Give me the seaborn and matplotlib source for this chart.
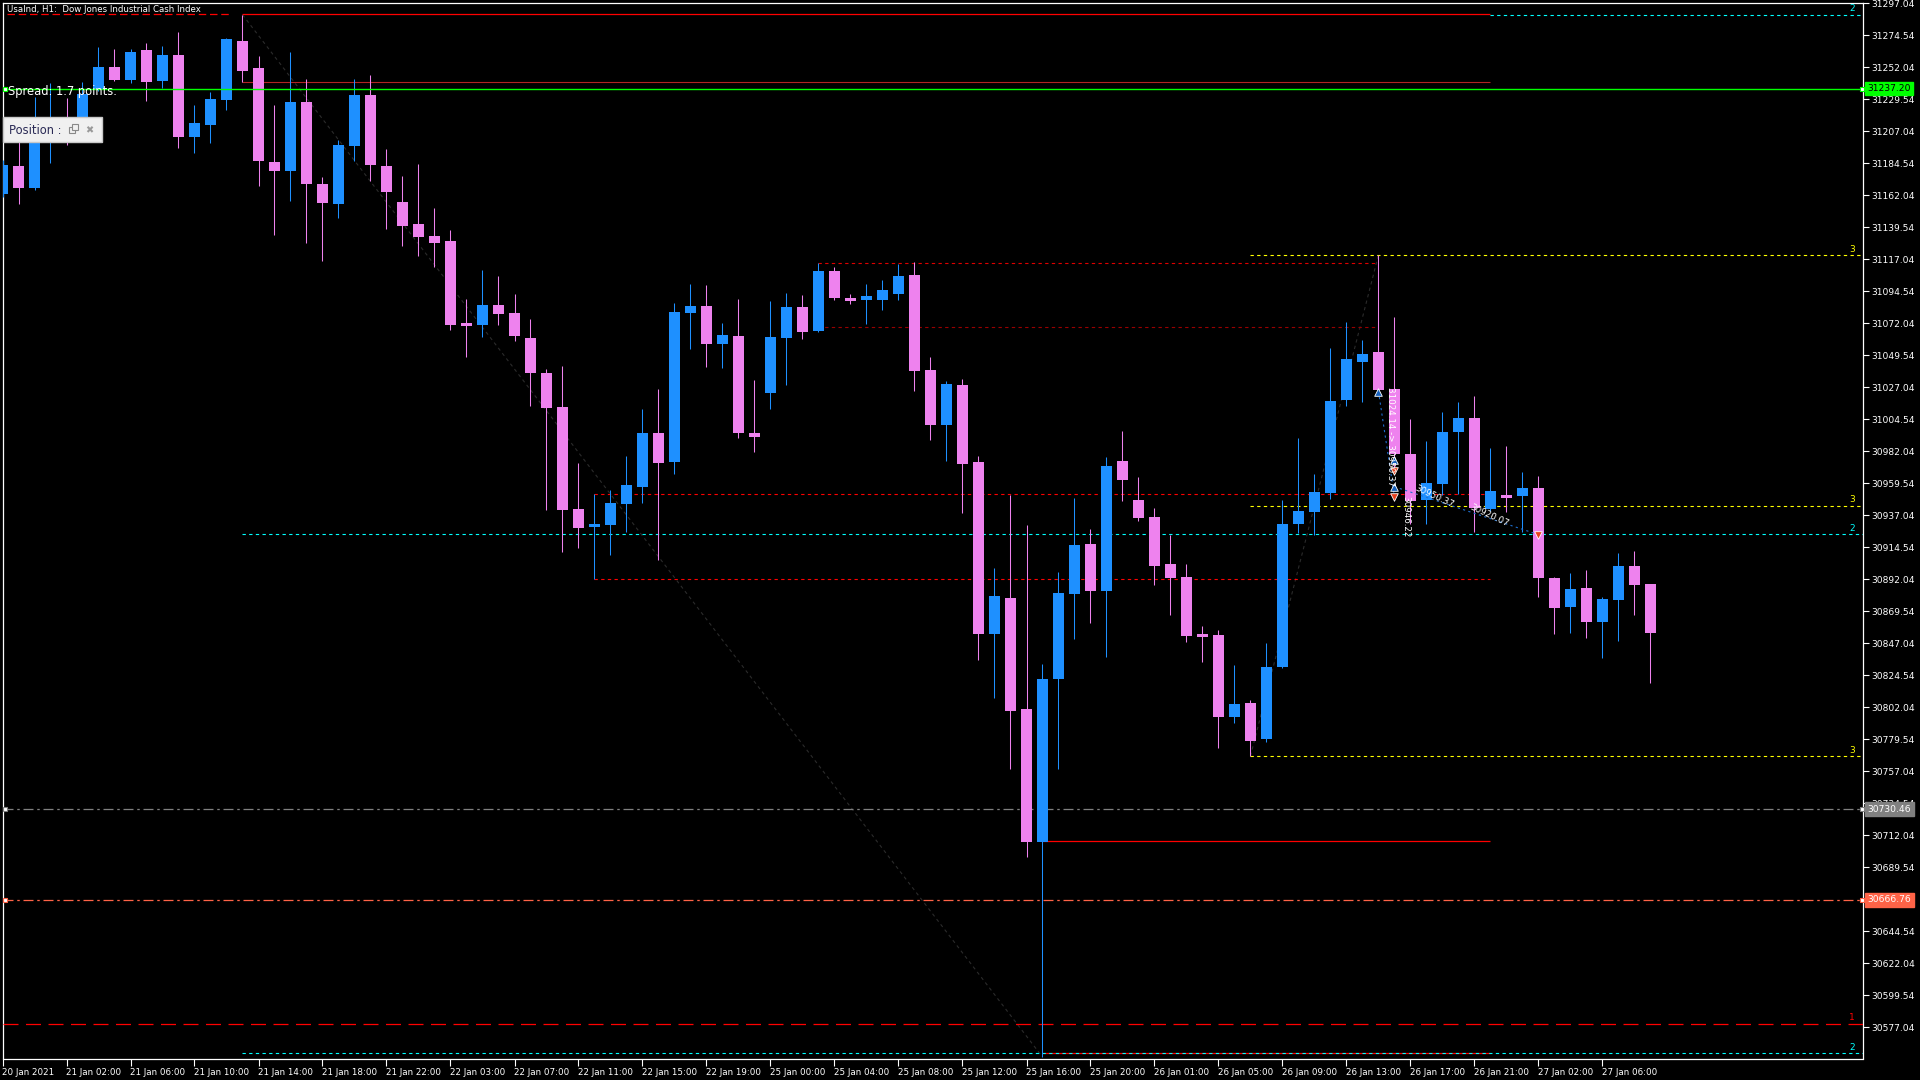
import numpy as np
import pandas as pd
import matplotlib
matplotlib.use("Agg")
import matplotlib.pyplot as plt
import seaborn as sns

# UsaInd H1 bars, 20 Jan 22:00 .. 27 Jan
opens = [31163.2, 31182.7, 31167.5, 31201.0, 31215.1, 31211.5, 31236.9, 31252.3, 31243.2, 31264.3,
         31242.5, 31260.8, 31203.3, 31211.5, 31229.3, 31270.6, 31251.6, 31185.5, 31179.2, 31227.7,
         31170.1, 31156.2, 31197.0, 31232.6, 31182.7, 31157.4, 31141.9, 31133.5, 31130.0, 31072.3,
         31071.1, 31085.0, 31079.4, 31061.8, 31037.2, 31013.3, 30941.5, 30929.1, 30930.3, 30945.3,
         30957.2, 30995.0, 30974.8, 31079.6, 31084.3, 31057.8, 31063.2, 30995.0, 31023.3, 31062.0,
         31083.6, 31066.9, 31108.9, 31089.9, 31088.5, 31088.5, 31092.7, 31106.1, 31039.3, 31000.6,
         31028.7, 30974.7, 30853.7, 30879.0, 30800.9, 30707.4, 30822.2, 30881.8, 30917.1, 30883.9,
         30975.3, 30947.9, 30935.9, 30902.9, 30893.7, 30853.0, 30853.0, 30795.5, 30805.1, 30779.8,
         30830.5, 30931.2, 30939.6, 30953.0, 31018.4, 31045.1, 31051.9, 31025.9, 30980.4, 30948.1,
         30959.3, 30995.7, 31005.5, 30941.8, 30951.4, 30950.7, 30956.3, 30893.0, 30872.6, 30886.0,
         30862.1, 30877.6, 30901.5, 30888.8]
highs = [31186.9, 31201.0, 31231.4, 31241.3, 31230.7, 31242.0, 31266.4, 31265.0, 31265.0, 31269.2,
         31267.1, 31276.9, 31225.6, 31234.7, 31272.7, 31289.1, 31260.1, 31225.6, 31262.9, 31243.9,
         31175.0, 31201.0, 31243.9, 31246.7, 31194.7, 31175.7, 31184.1, 31153.2, 31137.7, 31089.2,
         31109.6, 31105.4, 31092.7, 31075.1, 31040.0, 31042.1, 30973.9, 30952.1, 30954.9, 30978.8,
         31011.9, 31025.9, 31086.4, 31099.7, 31099.0, 31072.3, 31089.2, 31032.2, 31087.8, 31093.4,
         31092.0, 31114.3, 31111.7, 31092.7, 31099.7, 31102.6, 31113.8, 31115.2, 31048.5, 31031.5,
         31033.0, 30978.8, 30900.1, 30951.7, 30930.3, 30832.6, 30897.2, 30949.3, 30927.5, 30978.1,
         30996.4, 30964.0, 30942.2, 30923.5, 30902.9, 30859.3, 30856.5, 30831.9, 30807.2, 30847.3,
         30947.9, 30991.5, 30966.2, 31054.7, 31073.0, 31060.4, 31120.3, 31076.5, 31004.8, 30989.4,
         31009.7, 31016.8, 31021.0, 30984.4, 30985.8, 30967.6, 30964.7, 30893.7, 30896.5, 30898.7,
         30879.7, 30910.6, 30912.0, 30888.8]
lows = [31160.9, 31156.2, 31165.8, 31184.6, 31197.5, 31204.5, 31235.5, 31242.5, 31241.3, 31228.6,
        31237.6, 31195.6, 31192.1, 31199.1, 31222.3, 31242.0, 31168.9, 31134.4, 31158.3, 31128.8,
        31116.1, 31146.4, 31186.4, 31172.4, 31138.6, 31126.7, 31119.6, 31111.9, 31067.6, 31048.6,
        31062.7, 31071.1, 31059.9, 31014.2, 30941.1, 30911.5, 30914.1, 30892.3, 30909.2, 30925.6,
        30946.0, 30905.7, 30966.4, 31054.3, 31041.6, 31040.9, 30991.7, 30981.8, 31012.1, 31028.9,
        31061.3, 31066.0, 31088.5, 31085.7, 31071.6, 31081.5, 31088.5, 31024.8, 30990.2, 30975.4,
        30938.8, 30835.4, 30808.7, 30758.7, 30696.9, 30556.2, 30758.7, 30850.2, 30861.4, 30837.6,
        30947.2, 30933.3, 30888.3, 30867.2, 30848.2, 30834.2, 30773.7, 30791.3, 30767.9, 30777.9,
        30830.0, 30924.9, 30923.1, 30948.8, 31014.2, 31017.0, 31024.0, 30967.1, 30931.2, 30931.2,
        30951.6, 30952.3, 30925.6, 30940.3, 30939.6, 30925.6, 30879.9, 30853.9, 30854.6, 30851.1,
        30837.0, 30848.9, 30867.2, 30819.4]
closes = [31183.4, 31167.5, 31205.0, 31213.6, 31199.6, 31233.3, 31252.3, 31243.2, 31262.9, 31242.0,
          31260.8, 31203.3, 31212.9, 31229.8, 31272.0, 31249.7, 31186.4, 31179.4, 31227.7, 31170.3,
          31156.9, 31197.5, 31232.6, 31183.6, 31164.6, 31140.7, 31133.0, 31128.8, 31071.1, 31070.4,
          31085.0, 31078.9, 31063.4, 31037.4, 31012.8, 30941.1, 30928.4, 30931.0, 30945.8, 30958.4,
          30995.0, 30974.1, 31080.1, 31084.3, 31057.8, 31063.9, 30995.2, 30992.4, 31062.5, 31083.6,
          31066.2, 31108.9, 31090.1, 31088.0, 31091.3, 31095.5, 31105.4, 31038.9, 31000.6, 31029.4,
          30973.2, 30853.7, 30880.5, 30799.6, 30707.4, 30822.2, 30882.5, 30916.3, 30883.9, 30971.8,
          30961.9, 30935.4, 30901.7, 30893.2, 30852.5, 30851.8, 30795.5, 30804.4, 30778.6, 30830.5,
          30931.0, 30940.1, 30953.5, 31017.5, 31047.0, 31050.5, 31025.4, 30980.4, 30947.4, 30959.8,
          30995.7, 31005.5, 30942.5, 30954.2, 30949.5, 30956.3, 30893.2, 30871.9, 30885.3, 30862.1,
          30878.3, 30901.5, 30888.1, 30854.6]

time_labels = ["20 Jan 2021", "21 Jan 02:00", "21 Jan 06:00", "21 Jan 10:00", "21 Jan 14:00",
               "21 Jan 18:00", "21 Jan 22:00", "22 Jan 03:00", "22 Jan 07:00", "22 Jan 11:00",
               "22 Jan 15:00", "22 Jan 19:00", "25 Jan 00:00", "25 Jan 04:00", "25 Jan 08:00",
               "25 Jan 12:00", "25 Jan 16:00", "25 Jan 20:00", "26 Jan 01:00", "26 Jan 05:00",
               "26 Jan 09:00", "26 Jan 13:00", "26 Jan 17:00", "26 Jan 21:00", "27 Jan 02:00",
               "27 Jan 06:00"]

bid_price = 31237.20
grey_level = 30730.46
stop_level = 30666.76
zone_level_1 = 30579.6
cyan_levels = [30923.95, 30559.0]
cyan_top = 31289.2
yellow_levels = [31119.9, 30944.0, 30767.85]

sns.set_style("dark", {"axes.facecolor": "black", "figure.facecolor": "black"})
plt.rcParams['font.family'] = ['DejaVu Sans']

W, H = 1920, 1080
fig = plt.figure(figsize=(19.2, 10.8), dpi=100, facecolor="black")
left_px, right_px, top_px, bot_px = 2.5, 1863.0, 2.75, 1058.5
ax = fig.add_axes([left_px / W, 1 - bot_px / H, (right_px - left_px) / W, (bot_px - top_px) / H])
ax.set_facecolor("black")

xmax = (right_px - left_px) / 16.0
ax.set_xlim(0, xmax)
ax.set_ylim(30555.17, 31297.50)

df = pd.DataFrame({"open": opens, "high": highs, "low": lows, "close": closes})
df["x"] = np.arange(len(df))
up = df["close"] >= df["open"]
colors = np.where(up, "#1E90FF", "#EE82EE")

ax.vlines(df["x"], df["low"], df["high"], colors=colors, linewidth=0.75, zorder=4)
body_low = np.minimum(df["open"], df["close"])
body_h = np.maximum((df["close"] - df["open"]).abs(), 1.6)
ax.bar(df["x"], body_h, bottom=body_low, width=11 / 16, color=colors, linewidth=0, zorder=5)

dot = (0, (3, 3))
yx = ax.get_yaxis_transform()

# trend lines (dark)
ax.plot([15, 65], [highs[15], lows[65]], color="#2b2b2b", lw=0.8, ls=dot, zorder=2)
ax.plot([78, 86], [lows[78], highs[86]], color="#2b2b2b", lw=0.8, ls=dot, zorder=2)

# horizontal objects
ax.hlines(31289.4, 15, 93, color="#FF0000", lw=0.9, zorder=3)
ax.hlines(31289.4, 0.3, 14.2, color="#FF0000", lw=0.9, ls=(0, (6, 3)), zorder=3)
ax.hlines(highs[15] - 47.5, 15, 93, color="#B22222", lw=0.8, zorder=3)
ax.hlines(bid_price, 0, xmax, color="#00FF00", lw=1.0, zorder=6)
ax.hlines(highs[51], 51, 86, color="#DD0000", lw=0.8, ls=dot, zorder=3)
ax.hlines(31069.3, 51, 86, color="#990000", lw=0.8, ls=dot, zorder=3)
ax.hlines(highs[37], 37, 93, color="#FF0000", lw=0.8, ls=dot, zorder=3)
ax.hlines(lows[37], 37, 93, color="#FF0000", lw=0.8, ls=dot, zorder=3)
ax.hlines(30707.8, 65, 93, color="#FF0000", lw=0.9, zorder=3)
ax.hlines(30559.0, 65, 93, color="#FF0000", lw=0.9, zorder=3)
for lv in yellow_levels:
    ax.hlines(lv, 78, xmax, color="#FFFF00", lw=0.8, ls=dot, zorder=3)
    ax.text(0.9955, lv + 1.0, "3", transform=yx, color="#FFFF00", fontsize=6.5, ha="right", va="bottom")
for lv in cyan_levels:
    ax.hlines(lv, 15, xmax, color="#00FFFF", lw=0.8, ls=dot, zorder=3)
    ax.text(0.9955, lv + 1.0, "2", transform=yx, color="#00FFFF", fontsize=6.5, ha="right", va="bottom")
ax.hlines(cyan_top, 93, xmax, color="#00FFFF", lw=0.8, ls=dot, zorder=3)
ax.text(0.9955, cyan_top + 1.0, "2", transform=yx, color="#00FFFF", fontsize=6.5, ha="right", va="bottom")
ax.hlines(zone_level_1, 0, xmax, color="#FF0000", lw=0.9, ls=(0, (12, 6)), zorder=3)
ax.text(0.9955, zone_level_1 + 1.0, "1", transform=yx, color="#FF0000", fontsize=6.5, ha="right", va="bottom")
ax.hlines(grey_level, 0, xmax, color="#808080", lw=0.9, ls=(0, (8, 3, 2, 3)), zorder=3)
ax.hlines(stop_level, 0, xmax, color="#FF6347", lw=0.9, ls=(0, (8, 3, 2, 3)), zorder=3)

for lv, col in [(bid_price, "#00FF00"), (grey_level, "#808080"), (stop_level, "#FF6347")]:
    ax.plot([0.0015, 0.9995], [lv, lv], transform=yx, ls="none", marker="s", ms=3.5,
            mfc="white", mec=col, mew=0.8, clip_on=False, zorder=8)

# trade markers
trades = pd.DataFrame({"x": [86, 87, 87, 87, 87, 96],
                       "price": [31024.14, 30976.0, 30968.3, 30957.2, 30949.8, 30923.5],
                       "side": ["buy", "buy", "sell", "buy", "sell", "sell"]})
ax.plot([86, 87], [31024.14, 30949.8], color="#1E6FD0", lw=0.8, ls=(0, (2, 3)), zorder=6)
ax.plot([87, 96], [30957.2, 30923.5], color="#1E6FD0", lw=0.8, ls=(0, (2, 3)), zorder=6)
sns.scatterplot(data=trades[trades.side == "buy"], x="x", y="price", marker="^", s=30,
                color="#1560BD", edgecolor="white", linewidth=0.6, ax=ax, zorder=9)
sns.scatterplot(data=trades[trades.side == "sell"], x="x", y="price", marker="v", s=30,
                color="#E8401C", edgecolor="white", linewidth=0.6, ax=ax, zorder=9)
ax.text(86.45, 31027, "31024.14 -> 30950.37", color="white", fontsize=6.3, rotation=270,
        ha="left", va="top", zorder=10)
ax.text(87.45, 30951, "30946.22", color="white", fontsize=6.3, rotation=270, ha="left", va="top", zorder=10)
ax.text(88.2, 30950.37, "30950.37", color="white", fontsize=6.3, rotation=-25, ha="left", va="center", zorder=10)
ax.text(91.6, 30937.0, "30920.07", color="white", fontsize=6.3, rotation=-25, ha="left", va="center", zorder=10)

# right price tags
for lv, bg, fg in [(bid_price, "#00FF00", "black"), (grey_level, "#808080", "white"),
                   (stop_level, "#FF6347", "white")]:
    ax.text(1.0025, lv, f"{lv:.2f}", transform=yx, color=fg, fontsize=6.6, ha="left", va="center",
            clip_on=False, zorder=12,
            bbox=dict(boxstyle="square,pad=0.25", fc=bg, ec=bg))

# axes
price_ticks = np.arange(30577.04, 31297.05, 22.5)
ax.yaxis.tick_right()
ax.set_yticks(price_ticks)
ax.set_yticklabels([f"{v:.2f}" for v in price_ticks])
ax.set_xticks(np.arange(0, 4 * len(time_labels), 4))
ax.set_xticklabels(time_labels)
for lab in ax.get_xticklabels():
    lab.set_ha("left")
ax.tick_params(axis="y", colors="white", labelsize=6.6, length=4, width=0.8, direction="out", pad=2,
               right=True, left=False)
ax.tick_params(axis="x", colors="white", labelsize=6.3, length=5, width=0.8, direction="out", pad=2,
               bottom=True)
ax.grid(False)
for sp in ax.spines.values():
    sp.set_color("white")
    sp.set_linewidth(0.9)
ax.set_xlabel("")
ax.set_ylabel("")

# header texts
fig.text(7 / W, 1 - 9 / H, "UsaInd, H1:  Dow Jones Industrial Cash Index", color="white", fontsize=6.2,
         ha="left", va="center", zorder=20)
fig.text(8 / W, 1 - 92 / H, "Spread: 1.7 points.", color="white", fontsize=8.3, ha="left", va="center",
         zorder=20)
fig.patches.append(plt.Rectangle((3 / W, 1 - 142 / H), 99 / W, 25 / H, transform=fig.transFigure,
                                 fc="#F0F0F0", ec="#C8C8C8", lw=1, zorder=20))
fig.text(9 / W, 1 - 130 / H, "Position :", color="#2A2A55", fontsize=8.3, ha="left", va="center", zorder=21)
# restore icon: two overlapping small squares
for dx, dy in [(69, 127), (72, 124)]:
    fig.patches.append(plt.Rectangle((dx / W, 1 - (dy + 6) / H), 6 / W, 6 / H, transform=fig.transFigure,
                                     fc="#F0F0F0", ec="#888888", lw=0.8, zorder=22))
fig.text(85 / W, 1 - 130 / H, "\u2716", color="#999999", fontsize=7, ha="left", va="center", zorder=21)

fig.savefig("out.png", dpi=100, facecolor="black")
